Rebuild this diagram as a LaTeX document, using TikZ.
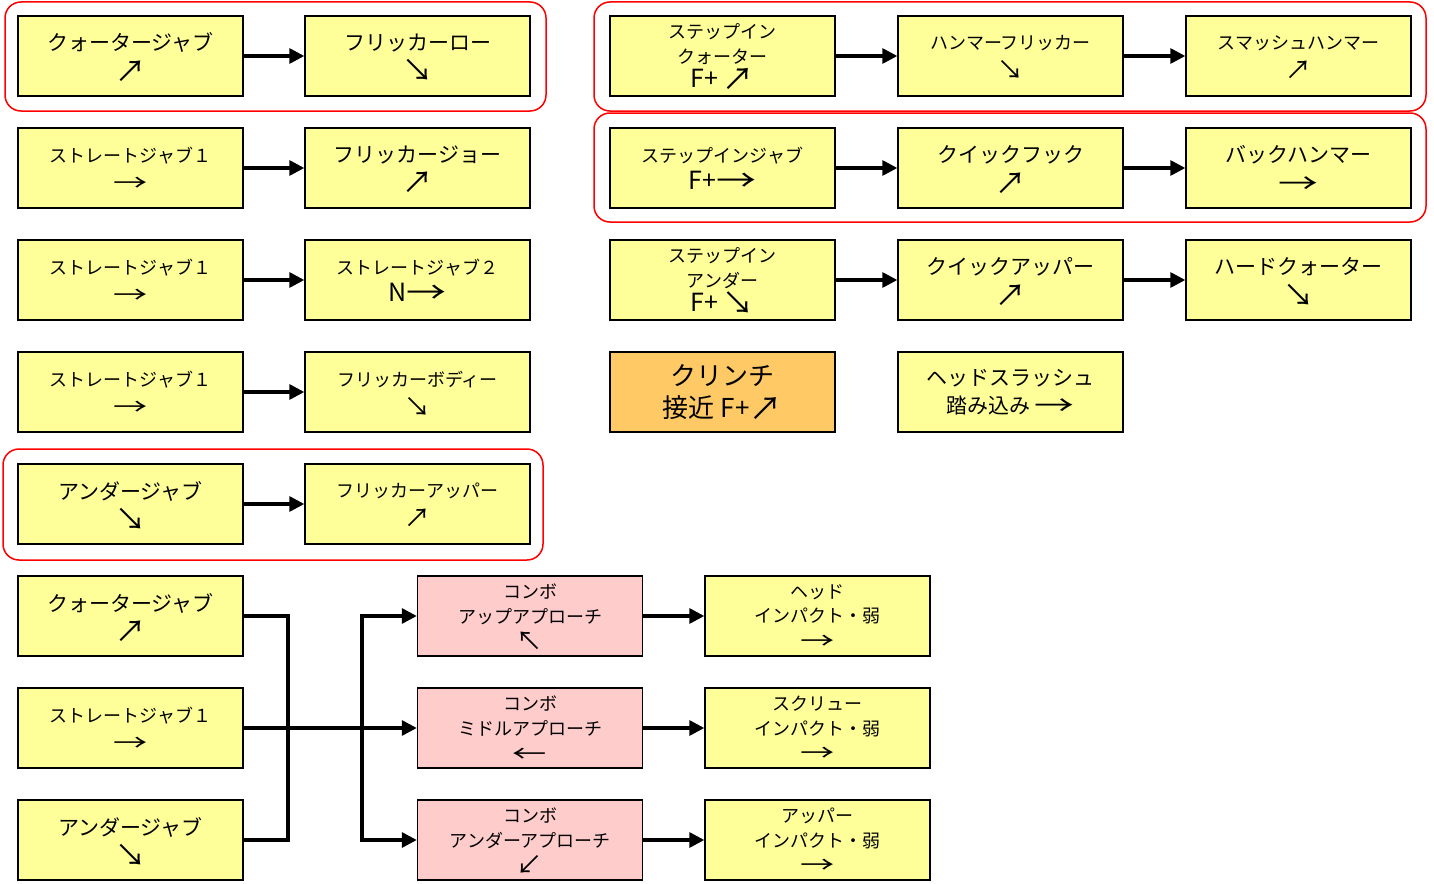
\documentclass[tikz,border=0pt]{standalone}
\usepackage{fontspec}
\usepackage{graphicx}
\setmainfont{Noto Sans CJK JP}
\usetikzlibrary{arrows.meta}
\definecolor{boxyellow}{HTML}{FFFF99}
\definecolor{boxpink}{HTML}{FFCCCC}
\definecolor{boxorange}{HTML}{FFC966}
\definecolor{grpred}{HTML}{FF0000}
\newcommand{\fsS}{\fontsize{18}{27}\selectfont}
\newcommand{\fsN}{\fontsize{21}{28}\selectfont}
\newcommand{\fsT}{\fontsize{18}{24.5}\selectfont}
\newcommand{\fsB}{\fontsize{25}{25}\selectfont}
% diagonal arrows, scaled up
\newcommand{\ar}[1]{\smash{\raisebox{-0.17em}{\scalebox{1.45}{#1}}}}
% horizontal arrows, scaled wider
\newcommand{\arh}[1]{\smash{\raisebox{-0.12em}{\scalebox{1.9}[1.3]{#1}}}}
% arrows inside the larger F+ / N lines
\newcommand{\arb}[1]{\smash{\raisebox{-0.1em}{\scalebox{1.25}{#1}}}}
\newcommand{\arbh}[1]{\smash{\raisebox{-0.08em}{\scalebox{1.6}[1.2]{#1}}}}
\begin{document}
\begin{tikzpicture}[x=1pt,y=-1pt,
  box/.style={draw=black,line width=1.4pt,fill=boxyellow,minimum width=225pt,minimum height=80pt,inner sep=0pt,align=center},
  pbox/.style={box,fill=boxpink},
  obox/.style={box,fill=boxorange},
  sm/.style={font=\fsS},
  nm/.style={font=\fsN},
  tl/.style={font=\fsT},
  conn/.style={line width=3.2pt,-{Triangle[length=15pt,width=15pt]}},
  bus/.style={line width=3.2pt},
  grp/.style={draw=grpred,line width=1.5pt,rounded corners=16pt}]
\useasboundingbox (0,0) rectangle (1434,883);
% groups
\draw[grp] (5,2) rectangle (546,111);
\draw[grp] (594,2) rectangle (1426,111);
\draw[grp] (594,113) rectangle (1426,222);
\draw[grp] (3,449) rectangle (543,560);
% left column pairs
\node[box,nm] (l1a) at (130.5,56) {クォータージャブ\\\ar{↗}};
\node[box,nm] (l1b) at (417.5,56) {フリッカーロー\\\ar{↘}};
\node[box,sm] (l2a) at (130.5,168) {ストレートジャブ１\\\arh{→}};
\node[box,nm] (l2b) at (417.5,168) {フリッカージョー\\\ar{↗}};
\node[box,sm] (l3a) at (130.5,280) {ストレートジャブ１\\\arh{→}};
\node[box,sm] (l3b) at (417.5,280) {ストレートジャブ２\\{\fsB N\arbh{→}}};
\node[box,sm] (l4a) at (130.5,392) {ストレートジャブ１\\\arh{→}};
\node[box,sm] (l4b) at (417.5,392) {フリッカーボディー\\\ar{↘}};
\node[box,nm] (l5a) at (130.5,504) {アンダージャブ\\\ar{↘}};
\node[box,sm] (l5b) at (417.5,504) {フリッカーアッパー\\\ar{↗}};
\draw[conn] (l1a) -- (l1b);
\draw[conn] (l2a) -- (l2b);
\draw[conn] (l3a) -- (l3b);
\draw[conn] (l4a) -- (l4b);
\draw[conn] (l5a) -- (l5b);
% right side chains
\node[box,tl] (r1a) at (722.5,56) {ステップイン\\クォーター\\{\fsB F+\,\arb{↗}}};
\node[box,sm] (r1b) at (1010.5,56) {ハンマーフリッカー\\\ar{↘}};
\node[box,sm] (r1c) at (1298.5,56) {スマッシュハンマー\\\ar{↗}};
\node[box,sm] (r2a) at (722.5,168) {ステップインジャブ\\{\fsB F+\arbh{→}}};
\node[box,nm] (r2b) at (1010.5,168) {クイックフック\\\ar{↗}};
\node[box,nm] (r2c) at (1298.5,168) {バックハンマー\\\arh{→}};
\node[box,tl] (r3a) at (722.5,280) {ステップイン\\アンダー\\{\fsB F+\,\arb{↘}}};
\node[box,nm] (r3b) at (1010.5,280) {クイックアッパー\\\ar{↗}};
\node[box,nm] (r3c) at (1298.5,280) {ハードクォーター\\\ar{↘}};
\node[obox,font=\fontsize{26}{32}\selectfont] (r4a) at (722.5,392) {クリンチ\\接近 F+\arb{↗}};
\node[box,nm] (r4b) at (1010.5,392) {ヘッドスラッシュ\\踏み込み \arh{→}};
\draw[conn] (r1a) -- (r1b);
\draw[conn] (r1b) -- (r1c);
\draw[conn] (r2a) -- (r2b);
\draw[conn] (r2b) -- (r2c);
\draw[conn] (r3a) -- (r3b);
\draw[conn] (r3b) -- (r3c);
% bottom combo section
\node[box,nm] (q1) at (130.5,616) {クォータージャブ\\\ar{↗}};
\node[box,sm] (q2) at (130.5,728) {ストレートジャブ１\\\arh{→}};
\node[box,nm] (q3) at (130.5,840) {アンダージャブ\\\ar{↘}};
\node[pbox,tl] (p1) at (530,616) {コンボ\\アップアプローチ\\\ar{↖}};
\node[pbox,tl] (p2) at (530,728) {コンボ\\ミドルアプローチ\\\arh{←}};
\node[pbox,tl] (p3) at (530,840) {コンボ\\アンダーアプローチ\\\ar{↙}};
\node[box,tl] (f1) at (817.5,616) {ヘッド\\インパクト・弱\\\arh{→}};
\node[box,tl] (f2) at (817.5,728) {スクリュー\\インパクト・弱\\\arh{→}};
\node[box,tl] (f3) at (817.5,840) {アッパー\\インパクト・弱\\\arh{→}};
\coordinate (busL) at (288,728);
\coordinate (busR) at (362,728);
\draw[bus,line join=miter] (q1.east) -| (busL) |- (q3.east);
\draw[conn] (q2.east) -- (p2.west);
\draw[conn] (busR) |- (p1.west);
\draw[conn] (busR) |- (p3.west);
\draw[conn] (p1) -- (f1);
\draw[conn] (p2) -- (f2);
\draw[conn] (p3) -- (f3);
\end{tikzpicture}
\end{document}
